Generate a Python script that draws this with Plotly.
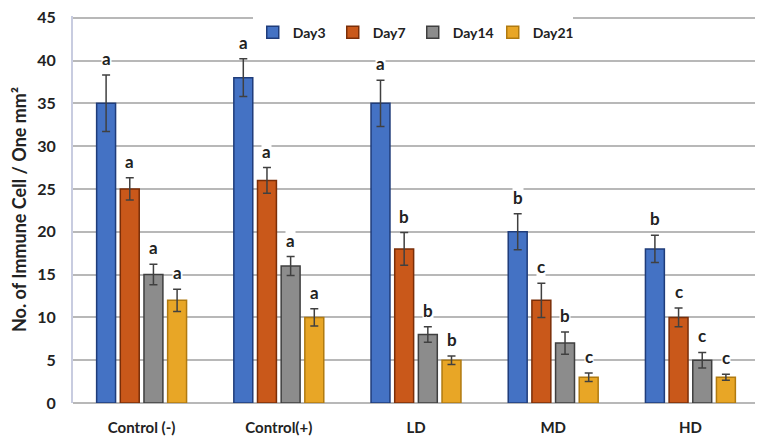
import plotly.graph_objects as go

groups = ['Control (-)', 'Control(+)', 'LD', 'MD', 'HD']
days = ['Day3', 'Day7', 'Day14', 'Day21']

day3 = [35, 38, 35, 20, 18]
day7 = [25, 26, 18, 12, 10]
day14 = [15, 16, 8, 7, 5]
day21 = [12, 10, 5, 3, 3]

day3_err = [3.3, 2.2, 2.7, 2.1, 1.6]
day7_err = [1.3, 1.5, 1.9, 2.0, 1.1]
day14_err = [1.2, 1.1, 0.9, 1.3, 0.9]
day21_err = [1.3, 1.0, 0.5, 0.5, 0.35]

day3_sig = ['a', 'a', 'a', 'b', 'b']
day7_sig = ['a', 'a', 'b', 'c', 'c']
day14_sig = ['a', 'a', 'b', 'b', 'c']
day21_sig = ['a', 'a', 'b', 'c', 'c']

values = [day3, day7, day14, day21]
errors = [day3_err, day7_err, day14_err, day21_err]
letters = [day3_sig, day7_sig, day14_sig, day21_sig]

fills = ['#4472C4', '#C9581A', '#8C8C8C', '#E8A626']
edges = ['#1F3C7A', '#7A2E08', '#3F3F3F', '#B07A10']

BARGAP = 0.31
font = 'Lato, Open Sans, sans-serif'

fig = go.Figure()
for name, vals, errs, fc, ec in zip(days, values, errors, fills, edges):
    fig.add_trace(go.Bar(
        name=name,
        x=groups,
        y=vals,
        marker=dict(color=fc, line=dict(color=ec, width=1.5)),
        error_y=dict(type='data', array=errs, color='#404040', thickness=1.5, width=4),
    ))

# significance letters above each error bar
slot = (1 - BARGAP) / len(days)
for j, (vals, errs, sig) in enumerate(zip(values, errors, letters)):
    offset = (j - (len(days) - 1) / 2) * slot
    for i in range(len(groups)):
        fig.add_annotation(
            x=i + offset, y=vals[i] + errs[i], text=sig[i],
            showarrow=False, yanchor='bottom', yshift=5,
            bgcolor='white', borderpad=0,
            font=dict(family=font, size=17, color='#222222', weight='bold'),
        )

fig.update_layout(
    width=763, height=448,
    # the page body adds an 8px offset, so margins are shifted accordingly
    margin=dict(l=65, r=12, t=8, b=53),
    paper_bgcolor='white', plot_bgcolor='white',
    barmode='group', bargap=BARGAP, bargroupgap=0.2,
    font=dict(family=font, color='#222222'),
    legend=dict(
        orientation='h', x=0.262, y=0.957, xanchor='left', yanchor='middle',
        font=dict(size=14, weight='bold'), bgcolor='white',
        entrywidth=35, itemwidth=30, traceorder='normal',
    ),
    xaxis=dict(
        showgrid=False, showline=False, ticks='', automargin=False,
        tickfont=dict(size=15, weight='bold'), ticklabelstandoff=14,
    ),
    yaxis=dict(
        # a hair above 45 so the top gridline is not clipped at the edge
        range=[0, 45.2], tick0=0, dtick=5, showgrid=True, gridcolor='#B8B8B8', gridwidth=2,
        zeroline=True, zerolinecolor='#B8B8B8', zerolinewidth=2,
        showline=True, linecolor='#C8CCE0', linewidth=2, automargin=False,
        ticks='', tickfont=dict(size=16, weight='bold'), ticklabelstandoff=12,
        ticklabeloverflow='allow',
        title=dict(text='No. of Immune Cell / One mm²', font=dict(size=18, weight='bold'), standoff=9),
    ),
)

fig.write_html('out.html')
